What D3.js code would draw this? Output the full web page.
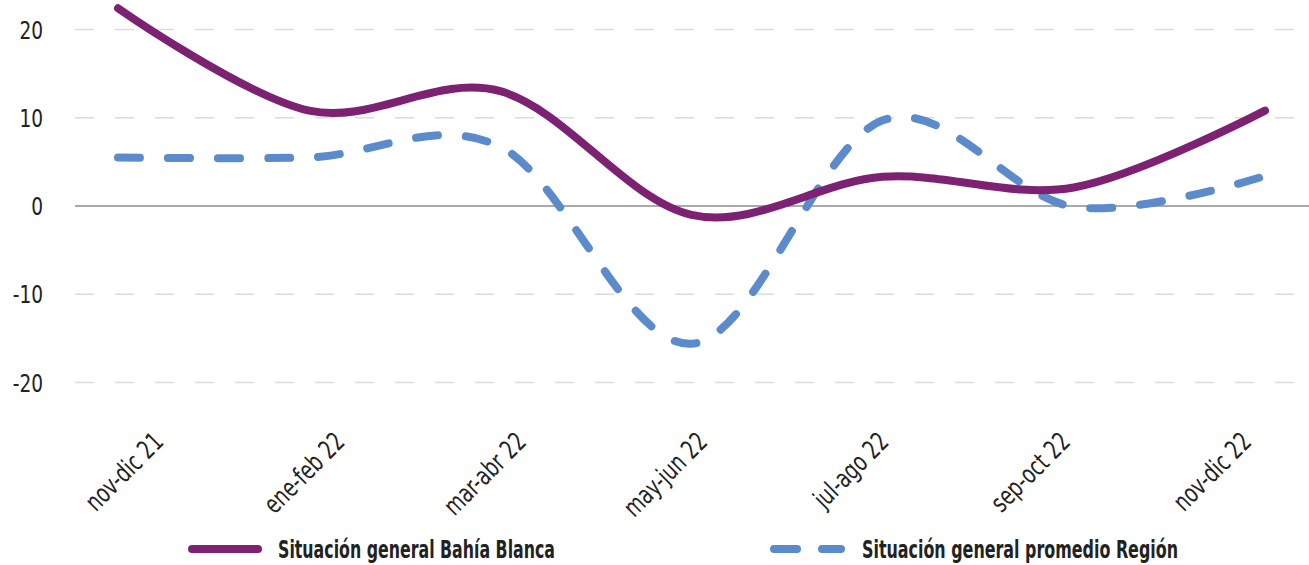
<!DOCTYPE html>
<html>
<head>
<meta charset="utf-8">
<script src="https://cdn.jsdelivr.net/npm/d3@7"></script>
<style>
  body { margin: 0; background: #fff; }
  text { font-family: "Liberation Sans Narrow", "DejaVu Sans Condensed", sans-serif; fill: #222; }
</style>
</head>
<body>
<svg id="chart" width="1309" height="565"></svg>
<script>
var categories = ["nov-dic 21", "ene-feb 22", "mar-abr 22", "may-jun 22", "jul-ago 22", "sep-oct 22", "nov-dic 22"];
var bahiaBlanca = [22.4, 10.8, 13.0, -1.0, 3.3, 2.1, 10.8];
var region = [5.5, 5.5, 6.7, -15.6, 9.7, -0.1, 3.4];
var yTicks = [-20, -10, 0, 10, 20];
var seriesNames = ["Situación general Bahía Blanca", "Situación general promedio Región"];

var svg = d3.select("#chart");

// scales
var x = d3.scalePoint().domain(categories).range([118, 1265]);
var xLab = d3.scalePoint().domain(categories).range([158, 1246]);
var y = d3.scaleLinear().domain([-20, 20]).range([382.6, 29.4]);

// grid lines
svg.append("g").selectAll("line")
  .data(yTicks.filter(function(d) { return d != 0; }))
  .enter().append("line")
    .attr("x1", 75).attr("x2", 1309)
    .attr("y1", function(d) { return y(d); })
    .attr("y2", function(d) { return y(d); })
    .attr("stroke", "#dcdcdc")
    .attr("stroke-width", 1.5)
    .attr("stroke-dasharray", "19 21");

// zero line
svg.append("line")
  .attr("x1", 75).attr("x2", 1309)
  .attr("y1", y(0)).attr("y2", y(0))
  .attr("stroke", "#8c8c8c")
  .attr("stroke-width", 1.5);

// y axis labels
var yAxis = svg.append("g")
  .attr("transform", "translate(43,0)")
  .call(d3.axisLeft(y).tickValues(yTicks).tickSize(0).tickPadding(0)
    .tickFormat(function(d) { return String(d); }));
yAxis.select(".domain").remove();
yAxis.selectAll("text")
  .style("font-size", "24px")
  .attr("fill", "#222")
  .attr("x", 0)
  .attr("dy", "0.36em")
  .attr("transform", "scale(0.86,1)");

// x axis labels
var xAxis = svg.append("g")
  .attr("transform", "translate(0,437)")
  .call(d3.axisBottom(xLab).tickSize(0));
xAxis.select(".domain").remove();
xAxis.selectAll("text")
  .style("font-size", "26px")
  .style("text-anchor", "end")
  .attr("fill", "#222")
  .attr("x", 0).attr("y", 0)
  .attr("dy", "0.35em")
  .attr("transform", "rotate(-45) scale(0.8,1)");

// lines
var line = d3.line()
  .x(function(d, i) { return x(categories[i]); })
  .y(function(d) { return y(d); })
  .curve(d3.curveCardinal.tension(0));

svg.append("path")
  .datum(region)
  .attr("d", line)
  .attr("fill", "none")
  .attr("stroke", "#5b8bca")
  .attr("stroke-width", 8)
  .attr("stroke-linecap", "round")
  .attr("stroke-dasharray", "22 28");

svg.append("path")
  .datum(bahiaBlanca)
  .attr("d", line)
  .attr("fill", "none")
  .attr("stroke", "#7d2173")
  .attr("stroke-width", 8)
  .attr("stroke-linecap", "round");

// legend
var legend = svg.append("g");
legend.append("line")
  .attr("x1", 192).attr("x2", 258)
  .attr("y1", 549).attr("y2", 549)
  .attr("stroke", "#7d2173").attr("stroke-width", 8)
  .attr("stroke-linecap", "round");
legend.append("text")
  .attr("x", 278).attr("y", 549).attr("dy", "0.36em")
  .attr("textLength", 277).attr("lengthAdjust", "spacingAndGlyphs")
  .style("font-size", "24.5px").style("font-weight", "bold")
  .text(seriesNames[0]);

legend.append("line")
  .attr("x1", 774).attr("x2", 841)
  .attr("y1", 549).attr("y2", 549)
  .attr("stroke", "#5b8bca").attr("stroke-width", 8)
  .attr("stroke-linecap", "round")
  .attr("stroke-dasharray", "23 25");
legend.append("text")
  .attr("x", 862).attr("y", 549).attr("dy", "0.36em")
  .attr("textLength", 316).attr("lengthAdjust", "spacingAndGlyphs")
  .style("font-size", "24.5px").style("font-weight", "bold")
  .text(seriesNames[1]);
</script>
</body>
</html>
